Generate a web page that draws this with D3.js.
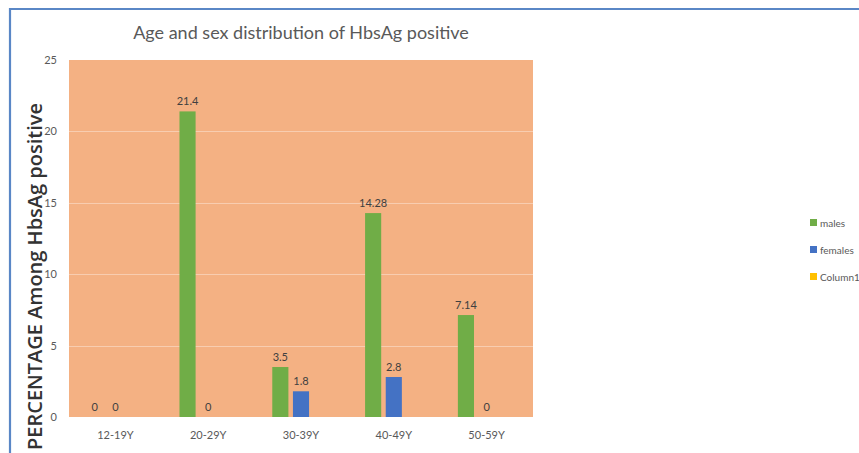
<!DOCTYPE html>
<html>
<head>
<meta charset="utf-8">
<script src="https://cdn.jsdelivr.net/npm/d3@7"></script>
<style>
  html, body { margin: 0; padding: 0; background: #ffffff; }
  svg { display: block; font-family: Lato, "Open Sans", sans-serif; }
</style>
</head>
<body>
<svg id="chart" width="859" height="453"></svg>
<script>
// Age groups and series
const categories = ["12-19Y", "20-29Y", "30-39Y", "40-49Y", "50-59Y"];
const seriesNames = ["males", "females", "Column1"];
const males = [0, 21.4, 3.5, 14.28, 7.14];
const females = [0, 0, 1.8, 2.8, 0];
const column1 = [null, null, null, null, null];
const yTicks = [0, 5, 10, 15, 20, 25];
const seriesColors = ["#70ad47", "#4472c4", "#ffc000"];

const titleText = "Age and sex distribution of HbsAg positive";
const yTitleText = "PERCENTAGE Among HbsAg positive";

const seriesValues = [males, females, column1];

const svg = d3.select("#chart");

// outer frame
svg.append("path")
  .attr("d", "M10,470 L10,9 L870,9")
  .attr("fill", "none")
  .attr("stroke", "#5a87c6")
  .attr("stroke-width", 2.2);

const plot = { left: 69, right: 533, top: 60, bottom: 417 };

const x0 = d3.scaleBand()
  .domain(categories)
  .range([plot.left, plot.right])
  .paddingInner(0.332)
  .paddingOuter(0.166);

const x1 = d3.scaleBand()
  .domain(seriesNames)
  .range([0, x0.bandwidth()])
  .paddingInner(0.22)
  .paddingOuter(0.11);

const y = d3.scaleLinear()
  .domain([0, 25])
  .range([plot.bottom, plot.top]);

// plot background
svg.append("rect")
  .attr("x", plot.left)
  .attr("y", plot.top)
  .attr("width", plot.right - plot.left)
  .attr("height", plot.bottom - plot.top)
  .attr("fill", "#f4b183");

// horizontal gridlines
svg.append("g")
  .selectAll("line")
  .data(yTicks.filter(t => t > 0 && t < 25))
  .join("line")
  .attr("x1", plot.left)
  .attr("x2", plot.right)
  .attr("y1", d => Math.round(y(d)) + 0.5)
  .attr("y2", d => Math.round(y(d)) + 0.5)
  .attr("stroke", "#f8cdb0")
  .attr("stroke-width", 1);

// y axis labels
const yAxis = d3.axisLeft(y).tickValues(yTicks).tickSize(0).tickPadding(0);
const yg = svg.append("g")
  .attr("transform", `translate(${plot.left - 12},0)`)
  .call(yAxis);
yg.select(".domain").remove();
yg.selectAll("text")
  .attr("fill", "#595959")
  .attr("font-size", 11)
  .attr("font-family", "Lato, 'Open Sans', sans-serif");

// x axis labels
const xAxis = d3.axisBottom(x0).tickSize(0).tickPadding(0);
const xg = svg.append("g")
  .attr("transform", `translate(0,${plot.bottom + 14})`)
  .call(xAxis);
xg.select(".domain").remove();
xg.selectAll("text")
  .attr("fill", "#595959")
  .attr("font-size", 11)
  .attr("font-family", "Lato, 'Open Sans', sans-serif");

// bars
const rows = categories.map((c, i) => ({
  cat: c,
  vals: seriesNames.map((s, j) => ({ s, j, v: seriesValues[j][i] }))
}));

const groups = svg.append("g")
  .selectAll("g")
  .data(rows)
  .join("g")
  .attr("transform", d => `translate(${x0(d.cat)},0)`);

groups.selectAll("rect")
  .data(d => d.vals.filter(e => e.v !== null))
  .join("rect")
  .attr("x", d => x1(d.s))
  .attr("width", x1.bandwidth())
  .attr("y", d => y(d.v))
  .attr("height", d => y(0) - y(d.v))
  .attr("fill", d => seriesColors[d.j]);

// value labels
groups.selectAll("text")
  .data(d => d.vals.filter(e => e.v !== null))
  .join("text")
  .attr("x", d => x1(d.s) + x1.bandwidth() / 2)
  .attr("y", d => y(d.v) - 6)
  .attr("text-anchor", "middle")
  .attr("font-size", 11)
  .attr("fill", "#404040")
  .text(d => String(d.v));

// chart title
svg.append("text")
  .attr("x", (plot.left + plot.right) / 2)
  .attr("y", 39)
  .attr("text-anchor", "middle")
  .attr("font-size", 18)
  .attr("fill", "#595959")
  .text(titleText);

// y axis title
svg.append("text")
  .attr("transform", "translate(42,103) rotate(-90)")
  .attr("text-anchor", "end")
  .attr("font-family", "'Open Sans', Lato, sans-serif")
  .attr("font-size", 20)
  .attr("font-weight", 600)
  .attr("fill", "#333333")
  .text(yTitleText);

// legend
const legend = svg.append("g")
  .selectAll("g")
  .data(seriesNames)
  .join("g")
  .attr("transform", (d, i) => `translate(810,${223 + i * 27})`);

legend.append("rect")
  .attr("x", 0)
  .attr("y", -4)
  .attr("width", 7)
  .attr("height", 7)
  .attr("fill", (d, i) => seriesColors[i]);

legend.append("text")
  .attr("x", 10)
  .attr("y", 3.5)
  .attr("font-size", 10)
  .attr("fill", "#595959")
  .text(d => d);
</script>
</body>
</html>
